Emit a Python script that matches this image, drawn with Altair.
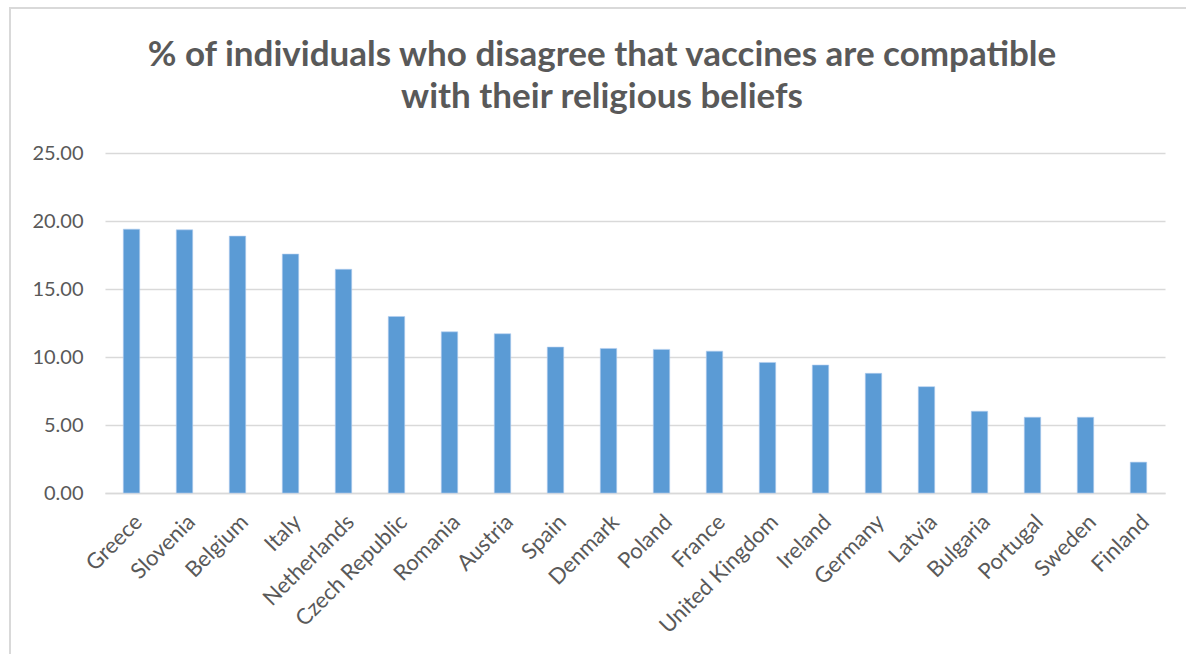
import altair as alt
import pandas as pd

countries = ["Greece", "Slovenia", "Belgium", "Italy", "Netherlands", "Czech Republic",
             "Romania", "Austria", "Spain", "Denmark", "Poland", "France",
             "United Kingdom", "Ireland", "Germany", "Latvia", "Bulgaria", "Portugal",
             "Sweden", "Finland"]
values = [19.40, 19.35, 18.89, 17.57, 16.45, 12.98, 11.85, 11.71, 10.73, 10.63,
          10.56, 10.43, 9.60, 9.41, 8.80, 7.82, 6.01, 5.57, 5.57, 2.27]
y_ticks = [0, 5, 10, 15, 20, 25]
title_lines = ["% of individuals who disagree that vaccines are compatible",
               "with their religious beliefs"]

df = pd.DataFrame({"country": countries, "value": values})
one = pd.DataFrame({"k": [0]})

FONT = "Lato"
GRAY = "#595959"

bars = alt.Chart(df).mark_bar(color="#5B9BD5", stroke="#b4cff0", strokeWidth=0.6).encode(
    x=alt.X("country:N", sort=countries, title=None,
            scale=alt.Scale(paddingInner=0.69, paddingOuter=0.345),
            axis=alt.Axis(labelAngle=-45, labelFontSize=22, labelColor=GRAY, labelFont=FONT,
                          ticks=False, domain=True, domainColor="#d9d9d9", domainWidth=1.5,
                          labelPadding=18)),
    y=alt.Y("value:Q", title=None,
            scale=alt.Scale(domain=[0, 25], nice=False),
            axis=alt.Axis(values=y_ticks, format=".2f", labelFontSize=20, labelColor=GRAY,
                          labelFont=FONT, ticks=False, domain=False, gridColor="#d9d9d9",
                          gridWidth=1.5, labelPadding=22)),
)

border_left = alt.Chart(one).mark_rule(color="#d9d9d9", strokeWidth=2).encode(
    x=alt.value(-95), y=alt.value(-146), y2=alt.value(520))
border_top = alt.Chart(one).mark_rule(color="#d9d9d9", strokeWidth=2).encode(
    x=alt.value(-96), x2=alt.value(1100), y=alt.value(-145))

title = alt.Chart(one).mark_text(
    text=title_lines, font=FONT, fontSize=35, fontWeight="bold", color=GRAY,
    align="center", baseline="alphabetic", lineHeight=42,
).encode(x=alt.value(497), y=alt.value(-87))

chart = alt.layer(border_left, border_top, title, bars).properties(
    width=1060, height=340,
    autosize=alt.AutoSizeParams(type="none"),
    padding={"left": 105, "top": 153, "right": 21, "bottom": 161},
).configure(background="white").configure_view(stroke=None)

chart.save("out.html", embed_options={"renderer": "svg", "actions": False})
